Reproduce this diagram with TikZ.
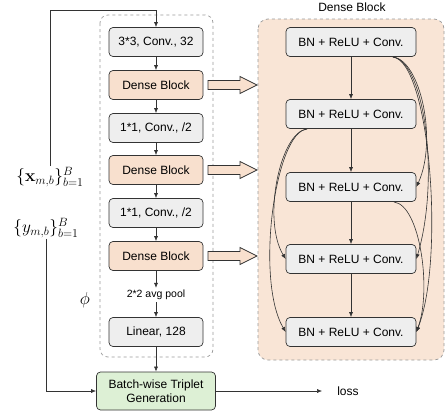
\documentclass[tikz,border=0pt]{standalone}
\usepackage[no-math]{fontspec}
\setmainfont{Liberation Sans}
\usetikzlibrary{arrows.meta}
\definecolor{boxgray}{HTML}{EEEEEE}
\definecolor{edge}{HTML}{333333}
\definecolor{peach}{HTML}{F8E0CE}
\definecolor{peachbg}{HTML}{F9E5D6}
\definecolor{greenbox}{HTML}{DDF0D5}
\definecolor{dashgray}{HTML}{999999}
\tikzset{
  blk/.style={draw=edge, line width=0.7pt, rounded corners=4pt, minimum width=94pt, minimum height=29pt, inner sep=0pt, font=\fontsize{12}{14}\selectfont},
  graybox/.style={blk, fill=boxgray},
  peachbox/.style={blk, fill=peach},
  bnbox/.style={blk, fill=boxgray, minimum width=130pt},
  arr/.style={draw=edge, line width=0.6pt, -{Latex[length=5pt,width=4pt]}},
  hollow/.style={draw=edge, line width=0.7pt, fill=peach},
  mathlbl/.style={font=\fontsize{18}{20}\selectfont, inner sep=1pt}
}
\begin{document}
\begin{tikzpicture}[x=1pt,y=-1pt]
\useasboundingbox (0,0) rectangle (445,418);
% containers
\draw[dashed, draw=dashgray, line width=0.7pt, rounded corners=8pt] (100,15) rectangle (213,357);
\draw[dashed, draw=dashgray, line width=0.7pt, fill=peachbg, rounded corners=10pt] (258,19) rectangle (444,360);
\node[font=\fontsize{12}{14}\selectfont] (dbtitle) at (352,7) {Dense Block};
% left column
\node[graybox] (b1) at (156,42) {3*3, Conv., 32};
\node[peachbox] (d1) at (156,85) {Dense Block};
\node[graybox] (c1) at (156,128) {1*1, Conv., /2};
\node[peachbox] (d2) at (156,170) {Dense Block};
\node[graybox] (c2) at (156,213) {1*1, Conv., /2};
\node[peachbox] (d3) at (156,256) {Dense Block};
\node[font=\fontsize{10.5}{12}\selectfont, inner sep=2pt] (pool) at (156,295) {2*2 avg pool};
\node[graybox] (lin) at (156,332) {Linear, 128};
\node[blk, fill=greenbox, minimum width=119pt, minimum height=38pt, align=center, font=\fontsize{12}{14.5}\selectfont] (bt) at (156,391) {Batch-wise Triplet\\Generation};
\node[font=\fontsize{12}{14}\selectfont, inner sep=2pt] (loss) at (348,391) {loss};
% labels
\node[mathlbl] (xl) at (50,177) {$\{\mathbf{x}_{m,b}\}_{b=1}^{B}$};
\node[mathlbl] (yl) at (46,228) {$\{y_{m,b}\}_{b=1}^{B}$};
\node[mathlbl] (phi) at (85,300) {$\phi$};
\coordinate (topc) at (156,10);
% column arrows
\draw[arr] (xl.north) |- (topc) -- (b1.north);
\draw[arr] (b1) -- (d1);
\draw[arr] (d1) -- (c1);
\draw[arr] (c1) -- (d2);
\draw[arr] (d2) -- (c2);
\draw[arr] (c2) -- (d3);
\draw[arr] (d3) -- (pool);
\draw[arr] (pool) -- (lin);
\draw[arr] (lin) -- (bt);
\draw[arr] (yl.south) |- (bt.west);
\draw[arr, shorten >=13pt] (bt.east) -- (loss.west);
% hollow arrows
\foreach \yy in {85,170,256}{
  \draw[hollow] (208,\yy-4.5) -- (240,\yy-4.5) -- (240,\yy-8.5) -- (257,\yy) -- (240,\yy+8.5) -- (240,\yy+4.5) -- (208,\yy+4.5) -- cycle;
}
% dense block internals
\node[bnbox] (A) at (351,42) {BN + ReLU + Conv.};
\node[bnbox] (B) at (351,114) {BN + ReLU + Conv.};
\node[bnbox] (C) at (351,187) {BN + ReLU + Conv.};
\node[bnbox] (D) at (351,259) {BN + ReLU + Conv.};
\node[bnbox] (E) at (351,332) {BN + ReLU + Conv.};
\draw[arr] (A) -- (B);
\draw[arr] (B) -- (C);
\draw[arr] (C) -- (D);
\draw[arr] (D) -- (E);
\coordinate (As) at (393,57);
\coordinate (Bs) at (307,129);
\coordinate (Cs) at (394,202);
\draw[arr] (As) .. controls (420,60) and (438,140) .. (C.east);
\draw[arr] (As) .. controls (425,62) and (440,180) .. (D.east);
\draw[arr] (As) .. controls (430,62) and (445,260) .. (E.east);
\draw[arr] (Cs) .. controls (420,205) and (432,290) .. (E.east);
\draw[arr] (Bs) .. controls (280,132) and (262,220) .. (D.west);
\draw[arr] (Bs) .. controls (275,132) and (255,280) .. (E.west);
\end{tikzpicture}
\end{document}
